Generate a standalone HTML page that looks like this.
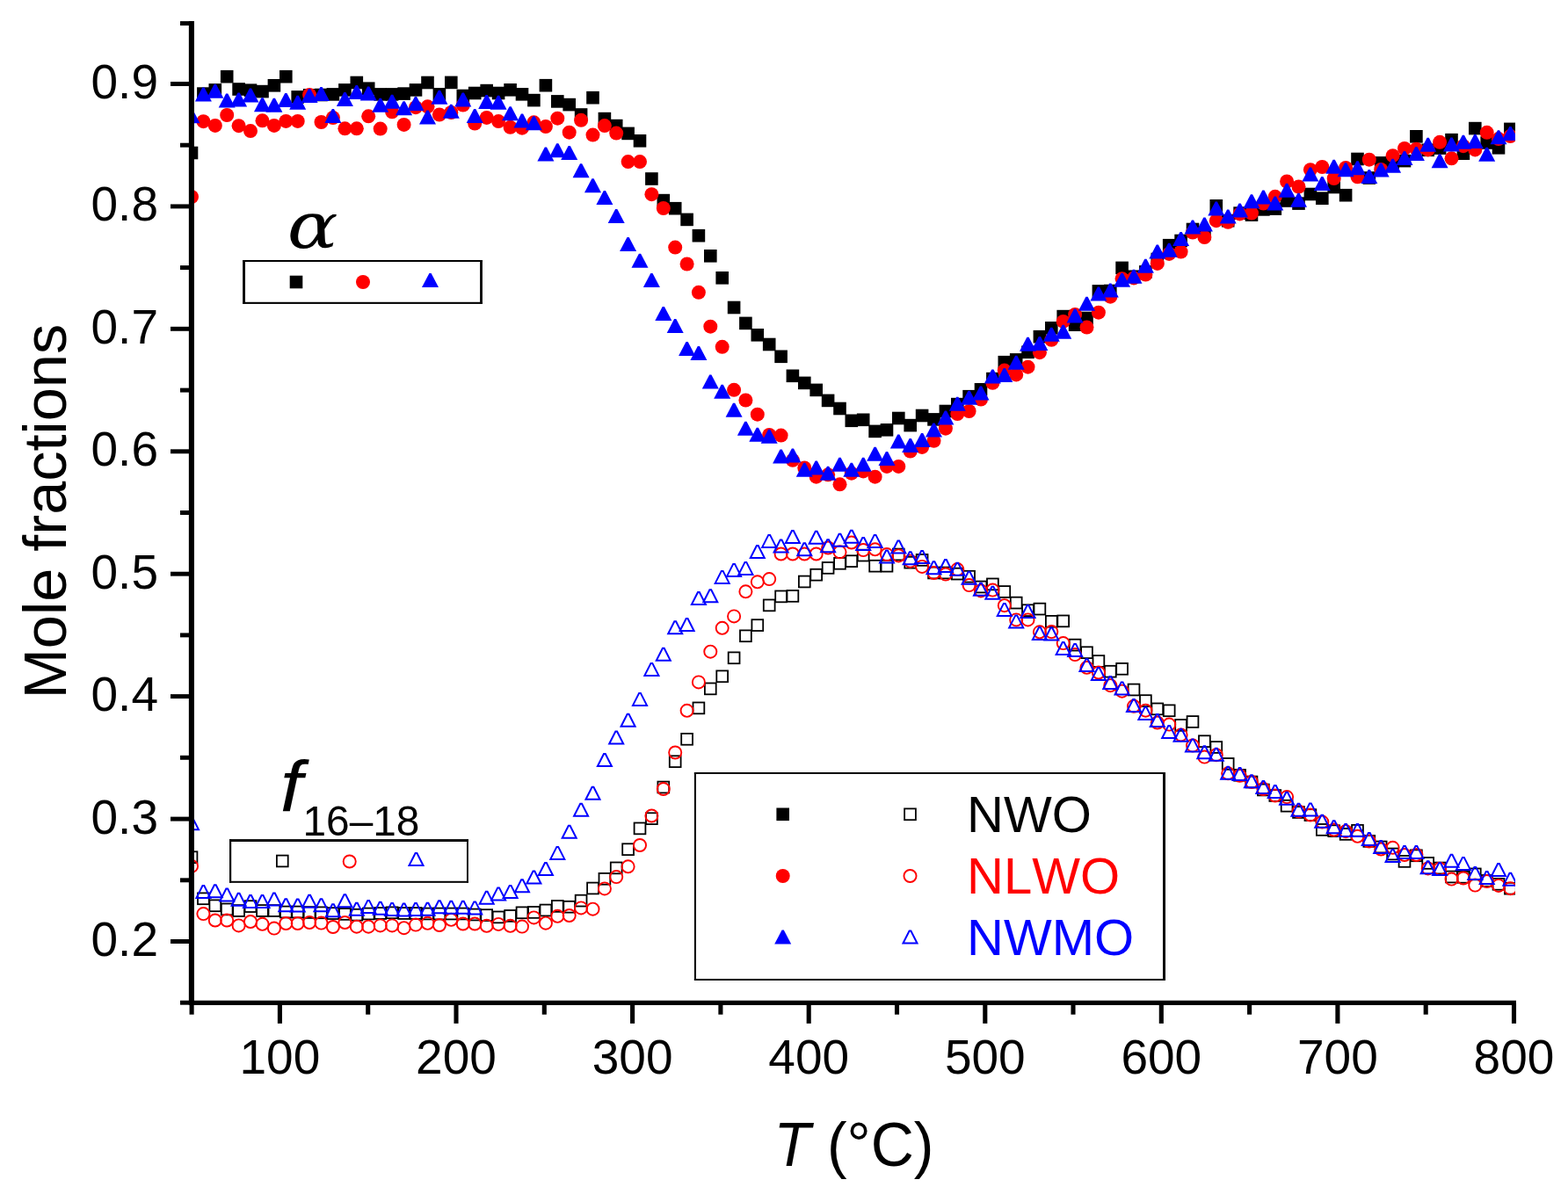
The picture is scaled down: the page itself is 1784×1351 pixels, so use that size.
<!DOCTYPE html>
<html><head><meta charset="utf-8"><title>Mole fractions vs T</title>
<style>html,body{margin:0;padding:0;background:#fff;}svg{display:block;} text{font-kerning:none;font-feature-settings:'kern' 0;}</style>
</head><body>
<svg width="1784" height="1351" viewBox="0 0 1784 1351">
<rect width="100%" height="100%" fill="#fff"/>
<defs><clipPath id="pc"><rect x="218" y="20" width="1506" height="1124"/></clipPath></defs>
<g clip-path="url(#pc)">
<rect x="211.6" y="969.3" width="12.8" height="12.8" fill="none" stroke="#000" stroke-width="1.8"/>
<rect x="225.0" y="1016.4" width="12.8" height="12.8" fill="none" stroke="#000" stroke-width="1.8"/>
<rect x="238.4" y="1024.4" width="12.8" height="12.8" fill="none" stroke="#000" stroke-width="1.8"/>
<rect x="251.8" y="1028.5" width="12.8" height="12.8" fill="none" stroke="#000" stroke-width="1.8"/>
<rect x="265.2" y="1030.1" width="12.8" height="12.8" fill="none" stroke="#000" stroke-width="1.8"/>
<rect x="278.6" y="1025.2" width="12.8" height="12.8" fill="none" stroke="#000" stroke-width="1.8"/>
<rect x="292.1" y="1030.1" width="12.8" height="12.8" fill="none" stroke="#000" stroke-width="1.8"/>
<rect x="305.5" y="1030.1" width="12.8" height="12.8" fill="none" stroke="#000" stroke-width="1.8"/>
<rect x="318.9" y="1031.6" width="12.8" height="12.8" fill="none" stroke="#000" stroke-width="1.8"/>
<rect x="332.3" y="1031.6" width="12.8" height="12.8" fill="none" stroke="#000" stroke-width="1.8"/>
<rect x="345.7" y="1032.1" width="12.8" height="12.8" fill="none" stroke="#000" stroke-width="1.8"/>
<rect x="359.1" y="1032.4" width="12.8" height="12.8" fill="none" stroke="#000" stroke-width="1.8"/>
<rect x="372.5" y="1033.2" width="12.8" height="12.8" fill="none" stroke="#000" stroke-width="1.8"/>
<rect x="386.0" y="1034.0" width="12.8" height="12.8" fill="none" stroke="#000" stroke-width="1.8"/>
<rect x="399.4" y="1034.8" width="12.8" height="12.8" fill="none" stroke="#000" stroke-width="1.8"/>
<rect x="412.8" y="1033.6" width="12.8" height="12.8" fill="none" stroke="#000" stroke-width="1.8"/>
<rect x="426.3" y="1033.1" width="12.8" height="12.8" fill="none" stroke="#000" stroke-width="1.8"/>
<rect x="439.7" y="1032.4" width="12.8" height="12.8" fill="none" stroke="#000" stroke-width="1.8"/>
<rect x="453.2" y="1033.1" width="12.8" height="12.8" fill="none" stroke="#000" stroke-width="1.8"/>
<rect x="466.6" y="1033.1" width="12.8" height="12.8" fill="none" stroke="#000" stroke-width="1.8"/>
<rect x="480.1" y="1033.6" width="12.8" height="12.8" fill="none" stroke="#000" stroke-width="1.8"/>
<rect x="493.5" y="1033.6" width="12.8" height="12.8" fill="none" stroke="#000" stroke-width="1.8"/>
<rect x="506.9" y="1033.6" width="12.8" height="12.8" fill="none" stroke="#000" stroke-width="1.8"/>
<rect x="520.4" y="1033.6" width="12.8" height="12.8" fill="none" stroke="#000" stroke-width="1.8"/>
<rect x="533.8" y="1034.6" width="12.8" height="12.8" fill="none" stroke="#000" stroke-width="1.8"/>
<rect x="547.3" y="1035.2" width="12.8" height="12.8" fill="none" stroke="#000" stroke-width="1.8"/>
<rect x="560.7" y="1037.5" width="12.8" height="12.8" fill="none" stroke="#000" stroke-width="1.8"/>
<rect x="574.2" y="1036.0" width="12.8" height="12.8" fill="none" stroke="#000" stroke-width="1.8"/>
<rect x="587.6" y="1032.4" width="12.8" height="12.8" fill="none" stroke="#000" stroke-width="1.8"/>
<rect x="601.0" y="1032.0" width="12.8" height="12.8" fill="none" stroke="#000" stroke-width="1.8"/>
<rect x="614.5" y="1029.6" width="12.8" height="12.8" fill="none" stroke="#000" stroke-width="1.8"/>
<rect x="627.9" y="1025.0" width="12.8" height="12.8" fill="none" stroke="#000" stroke-width="1.8"/>
<rect x="641.3" y="1025.8" width="12.8" height="12.8" fill="none" stroke="#000" stroke-width="1.8"/>
<rect x="654.7" y="1018.7" width="12.8" height="12.8" fill="none" stroke="#000" stroke-width="1.8"/>
<rect x="668.1" y="1004.6" width="12.8" height="12.8" fill="none" stroke="#000" stroke-width="1.8"/>
<rect x="681.5" y="993.9" width="12.8" height="12.8" fill="none" stroke="#000" stroke-width="1.8"/>
<rect x="694.8" y="981.5" width="12.8" height="12.8" fill="none" stroke="#000" stroke-width="1.8"/>
<rect x="708.2" y="960.3" width="12.8" height="12.8" fill="none" stroke="#000" stroke-width="1.8"/>
<rect x="721.6" y="936.5" width="12.8" height="12.8" fill="none" stroke="#000" stroke-width="1.8"/>
<rect x="735.0" y="925.3" width="12.8" height="12.8" fill="none" stroke="#000" stroke-width="1.8"/>
<rect x="748.4" y="889.6" width="12.8" height="12.8" fill="none" stroke="#000" stroke-width="1.8"/>
<rect x="761.8" y="860.3" width="12.8" height="12.8" fill="none" stroke="#000" stroke-width="1.8"/>
<rect x="775.2" y="834.9" width="12.8" height="12.8" fill="none" stroke="#000" stroke-width="1.8"/>
<rect x="788.5" y="799.5" width="12.8" height="12.8" fill="none" stroke="#000" stroke-width="1.8"/>
<rect x="801.9" y="777.5" width="12.8" height="12.8" fill="none" stroke="#000" stroke-width="1.8"/>
<rect x="815.3" y="763.4" width="12.8" height="12.8" fill="none" stroke="#000" stroke-width="1.8"/>
<rect x="828.7" y="742.4" width="12.8" height="12.8" fill="none" stroke="#000" stroke-width="1.8"/>
<rect x="842.0" y="717.4" width="12.8" height="12.8" fill="none" stroke="#000" stroke-width="1.8"/>
<rect x="855.4" y="705.2" width="12.8" height="12.8" fill="none" stroke="#000" stroke-width="1.8"/>
<rect x="868.8" y="682.5" width="12.8" height="12.8" fill="none" stroke="#000" stroke-width="1.8"/>
<rect x="882.2" y="672.5" width="12.8" height="12.8" fill="none" stroke="#000" stroke-width="1.8"/>
<rect x="895.5" y="672.0" width="12.8" height="12.8" fill="none" stroke="#000" stroke-width="1.8"/>
<rect x="908.9" y="655.6" width="12.8" height="12.8" fill="none" stroke="#000" stroke-width="1.8"/>
<rect x="922.3" y="647.8" width="12.8" height="12.8" fill="none" stroke="#000" stroke-width="1.8"/>
<rect x="935.7" y="640.0" width="12.8" height="12.8" fill="none" stroke="#000" stroke-width="1.8"/>
<rect x="949.1" y="634.9" width="12.8" height="12.8" fill="none" stroke="#000" stroke-width="1.8"/>
<rect x="962.4" y="632.3" width="12.8" height="12.8" fill="none" stroke="#000" stroke-width="1.8"/>
<rect x="975.8" y="625.7" width="12.8" height="12.8" fill="none" stroke="#000" stroke-width="1.8"/>
<rect x="989.2" y="637.8" width="12.8" height="12.8" fill="none" stroke="#000" stroke-width="1.8"/>
<rect x="1002.6" y="637.8" width="12.8" height="12.8" fill="none" stroke="#000" stroke-width="1.8"/>
<rect x="1015.9" y="624.6" width="12.8" height="12.8" fill="none" stroke="#000" stroke-width="1.8"/>
<rect x="1029.3" y="633.8" width="12.8" height="12.8" fill="none" stroke="#000" stroke-width="1.8"/>
<rect x="1042.7" y="631.0" width="12.8" height="12.8" fill="none" stroke="#000" stroke-width="1.8"/>
<rect x="1056.1" y="645.6" width="12.8" height="12.8" fill="none" stroke="#000" stroke-width="1.8"/>
<rect x="1069.5" y="645.6" width="12.8" height="12.8" fill="none" stroke="#000" stroke-width="1.8"/>
<rect x="1082.9" y="646.7" width="12.8" height="12.8" fill="none" stroke="#000" stroke-width="1.8"/>
<rect x="1096.2" y="649.8" width="12.8" height="12.8" fill="none" stroke="#000" stroke-width="1.8"/>
<rect x="1109.6" y="661.6" width="12.8" height="12.8" fill="none" stroke="#000" stroke-width="1.8"/>
<rect x="1123.0" y="658.5" width="12.8" height="12.8" fill="none" stroke="#000" stroke-width="1.8"/>
<rect x="1136.4" y="667.1" width="12.8" height="12.8" fill="none" stroke="#000" stroke-width="1.8"/>
<rect x="1149.8" y="679.7" width="12.8" height="12.8" fill="none" stroke="#000" stroke-width="1.8"/>
<rect x="1163.1" y="688.3" width="12.8" height="12.8" fill="none" stroke="#000" stroke-width="1.8"/>
<rect x="1176.5" y="686.7" width="12.8" height="12.8" fill="none" stroke="#000" stroke-width="1.8"/>
<rect x="1189.9" y="700.9" width="12.8" height="12.8" fill="none" stroke="#000" stroke-width="1.8"/>
<rect x="1203.3" y="700.5" width="12.8" height="12.8" fill="none" stroke="#000" stroke-width="1.8"/>
<rect x="1216.7" y="727.7" width="12.8" height="12.8" fill="none" stroke="#000" stroke-width="1.8"/>
<rect x="1230.1" y="736.3" width="12.8" height="12.8" fill="none" stroke="#000" stroke-width="1.8"/>
<rect x="1243.5" y="746.1" width="12.8" height="12.8" fill="none" stroke="#000" stroke-width="1.8"/>
<rect x="1256.9" y="757.8" width="12.8" height="12.8" fill="none" stroke="#000" stroke-width="1.8"/>
<rect x="1270.2" y="754.9" width="12.8" height="12.8" fill="none" stroke="#000" stroke-width="1.8"/>
<rect x="1283.6" y="778.6" width="12.8" height="12.8" fill="none" stroke="#000" stroke-width="1.8"/>
<rect x="1297.0" y="791.2" width="12.8" height="12.8" fill="none" stroke="#000" stroke-width="1.8"/>
<rect x="1310.4" y="800.5" width="12.8" height="12.8" fill="none" stroke="#000" stroke-width="1.8"/>
<rect x="1323.8" y="802.4" width="12.8" height="12.8" fill="none" stroke="#000" stroke-width="1.8"/>
<rect x="1337.2" y="819.0" width="12.8" height="12.8" fill="none" stroke="#000" stroke-width="1.8"/>
<rect x="1350.6" y="815.1" width="12.8" height="12.8" fill="none" stroke="#000" stroke-width="1.8"/>
<rect x="1364.0" y="837.3" width="12.8" height="12.8" fill="none" stroke="#000" stroke-width="1.8"/>
<rect x="1377.4" y="844.1" width="12.8" height="12.8" fill="none" stroke="#000" stroke-width="1.8"/>
<rect x="1390.8" y="863.0" width="12.8" height="12.8" fill="none" stroke="#000" stroke-width="1.8"/>
<rect x="1404.2" y="875.9" width="12.8" height="12.8" fill="none" stroke="#000" stroke-width="1.8"/>
<rect x="1417.6" y="883.6" width="12.8" height="12.8" fill="none" stroke="#000" stroke-width="1.8"/>
<rect x="1431.0" y="892.6" width="12.8" height="12.8" fill="none" stroke="#000" stroke-width="1.8"/>
<rect x="1444.4" y="899.1" width="12.8" height="12.8" fill="none" stroke="#000" stroke-width="1.8"/>
<rect x="1457.7" y="910.8" width="12.8" height="12.8" fill="none" stroke="#000" stroke-width="1.8"/>
<rect x="1471.1" y="918.1" width="12.8" height="12.8" fill="none" stroke="#000" stroke-width="1.8"/>
<rect x="1484.5" y="921.2" width="12.8" height="12.8" fill="none" stroke="#000" stroke-width="1.8"/>
<rect x="1497.9" y="938.0" width="12.8" height="12.8" fill="none" stroke="#000" stroke-width="1.8"/>
<rect x="1511.3" y="939.3" width="12.8" height="12.8" fill="none" stroke="#000" stroke-width="1.8"/>
<rect x="1524.7" y="943.0" width="12.8" height="12.8" fill="none" stroke="#000" stroke-width="1.8"/>
<rect x="1538.1" y="938.9" width="12.8" height="12.8" fill="none" stroke="#000" stroke-width="1.8"/>
<rect x="1551.4" y="951.0" width="12.8" height="12.8" fill="none" stroke="#000" stroke-width="1.8"/>
<rect x="1564.8" y="957.6" width="12.8" height="12.8" fill="none" stroke="#000" stroke-width="1.8"/>
<rect x="1578.2" y="965.6" width="12.8" height="12.8" fill="none" stroke="#000" stroke-width="1.8"/>
<rect x="1591.6" y="974.0" width="12.8" height="12.8" fill="none" stroke="#000" stroke-width="1.8"/>
<rect x="1605.0" y="967.4" width="12.8" height="12.8" fill="none" stroke="#000" stroke-width="1.8"/>
<rect x="1618.3" y="976.0" width="12.8" height="12.8" fill="none" stroke="#000" stroke-width="1.8"/>
<rect x="1631.7" y="981.6" width="12.8" height="12.8" fill="none" stroke="#000" stroke-width="1.8"/>
<rect x="1645.1" y="991.6" width="12.8" height="12.8" fill="none" stroke="#000" stroke-width="1.8"/>
<rect x="1658.5" y="991.9" width="12.8" height="12.8" fill="none" stroke="#000" stroke-width="1.8"/>
<rect x="1671.9" y="988.5" width="12.8" height="12.8" fill="none" stroke="#000" stroke-width="1.8"/>
<rect x="1685.3" y="996.0" width="12.8" height="12.8" fill="none" stroke="#000" stroke-width="1.8"/>
<rect x="1698.6" y="999.9" width="12.8" height="12.8" fill="none" stroke="#000" stroke-width="1.8"/>
<rect x="1712.0" y="1004.8" width="12.8" height="12.8" fill="none" stroke="#000" stroke-width="1.8"/>
<circle cx="218.0" cy="985.9" r="7.05" fill="none" stroke="#f00" stroke-width="1.9"/>
<circle cx="231.4" cy="1040.1" r="7.05" fill="none" stroke="#f00" stroke-width="1.9"/>
<circle cx="244.8" cy="1047.5" r="7.05" fill="none" stroke="#f00" stroke-width="1.9"/>
<circle cx="258.2" cy="1047.5" r="7.05" fill="none" stroke="#f00" stroke-width="1.9"/>
<circle cx="271.6" cy="1053.4" r="7.05" fill="none" stroke="#f00" stroke-width="1.9"/>
<circle cx="285.0" cy="1049.0" r="7.05" fill="none" stroke="#f00" stroke-width="1.9"/>
<circle cx="298.5" cy="1051.8" r="7.05" fill="none" stroke="#f00" stroke-width="1.9"/>
<circle cx="311.9" cy="1056.6" r="7.05" fill="none" stroke="#f00" stroke-width="1.9"/>
<circle cx="325.3" cy="1051.0" r="7.05" fill="none" stroke="#f00" stroke-width="1.9"/>
<circle cx="338.7" cy="1051.0" r="7.05" fill="none" stroke="#f00" stroke-width="1.9"/>
<circle cx="352.1" cy="1050.0" r="7.05" fill="none" stroke="#f00" stroke-width="1.9"/>
<circle cx="365.5" cy="1050.6" r="7.05" fill="none" stroke="#f00" stroke-width="1.9"/>
<circle cx="378.9" cy="1055.0" r="7.05" fill="none" stroke="#f00" stroke-width="1.9"/>
<circle cx="392.4" cy="1050.0" r="7.05" fill="none" stroke="#f00" stroke-width="1.9"/>
<circle cx="405.8" cy="1054.7" r="7.05" fill="none" stroke="#f00" stroke-width="1.9"/>
<circle cx="419.2" cy="1054.7" r="7.05" fill="none" stroke="#f00" stroke-width="1.9"/>
<circle cx="432.7" cy="1053.4" r="7.05" fill="none" stroke="#f00" stroke-width="1.9"/>
<circle cx="446.1" cy="1053.4" r="7.05" fill="none" stroke="#f00" stroke-width="1.9"/>
<circle cx="459.6" cy="1056.2" r="7.05" fill="none" stroke="#f00" stroke-width="1.9"/>
<circle cx="473.0" cy="1052.6" r="7.05" fill="none" stroke="#f00" stroke-width="1.9"/>
<circle cx="486.5" cy="1050.8" r="7.05" fill="none" stroke="#f00" stroke-width="1.9"/>
<circle cx="499.9" cy="1053.0" r="7.05" fill="none" stroke="#f00" stroke-width="1.9"/>
<circle cx="513.3" cy="1046.8" r="7.05" fill="none" stroke="#f00" stroke-width="1.9"/>
<circle cx="526.8" cy="1051.5" r="7.05" fill="none" stroke="#f00" stroke-width="1.9"/>
<circle cx="540.2" cy="1051.5" r="7.05" fill="none" stroke="#f00" stroke-width="1.9"/>
<circle cx="553.7" cy="1053.8" r="7.05" fill="none" stroke="#f00" stroke-width="1.9"/>
<circle cx="567.1" cy="1051.9" r="7.05" fill="none" stroke="#f00" stroke-width="1.9"/>
<circle cx="580.6" cy="1053.8" r="7.05" fill="none" stroke="#f00" stroke-width="1.9"/>
<circle cx="594.0" cy="1054.6" r="7.05" fill="none" stroke="#f00" stroke-width="1.9"/>
<circle cx="607.4" cy="1044.4" r="7.05" fill="none" stroke="#f00" stroke-width="1.9"/>
<circle cx="620.9" cy="1050.7" r="7.05" fill="none" stroke="#f00" stroke-width="1.9"/>
<circle cx="634.3" cy="1042.8" r="7.05" fill="none" stroke="#f00" stroke-width="1.9"/>
<circle cx="647.7" cy="1042.0" r="7.05" fill="none" stroke="#f00" stroke-width="1.9"/>
<circle cx="661.1" cy="1033.4" r="7.05" fill="none" stroke="#f00" stroke-width="1.9"/>
<circle cx="674.5" cy="1034.7" r="7.05" fill="none" stroke="#f00" stroke-width="1.9"/>
<circle cx="687.9" cy="1011.4" r="7.05" fill="none" stroke="#f00" stroke-width="1.9"/>
<circle cx="701.2" cy="998.1" r="7.05" fill="none" stroke="#f00" stroke-width="1.9"/>
<circle cx="714.6" cy="986.3" r="7.05" fill="none" stroke="#f00" stroke-width="1.9"/>
<circle cx="728.0" cy="962.0" r="7.05" fill="none" stroke="#f00" stroke-width="1.9"/>
<circle cx="741.4" cy="928.5" r="7.05" fill="none" stroke="#f00" stroke-width="1.9"/>
<circle cx="754.8" cy="898.0" r="7.05" fill="none" stroke="#f00" stroke-width="1.9"/>
<circle cx="768.2" cy="856.5" r="7.05" fill="none" stroke="#f00" stroke-width="1.9"/>
<circle cx="781.6" cy="808.8" r="7.05" fill="none" stroke="#f00" stroke-width="1.9"/>
<circle cx="794.9" cy="776.4" r="7.05" fill="none" stroke="#f00" stroke-width="1.9"/>
<circle cx="808.3" cy="741.7" r="7.05" fill="none" stroke="#f00" stroke-width="1.9"/>
<circle cx="821.7" cy="714.8" r="7.05" fill="none" stroke="#f00" stroke-width="1.9"/>
<circle cx="835.1" cy="701.4" r="7.05" fill="none" stroke="#f00" stroke-width="1.9"/>
<circle cx="848.4" cy="673.3" r="7.05" fill="none" stroke="#f00" stroke-width="1.9"/>
<circle cx="861.8" cy="662.3" r="7.05" fill="none" stroke="#f00" stroke-width="1.9"/>
<circle cx="875.2" cy="659.1" r="7.05" fill="none" stroke="#f00" stroke-width="1.9"/>
<circle cx="888.6" cy="630.5" r="7.05" fill="none" stroke="#f00" stroke-width="1.9"/>
<circle cx="901.9" cy="630.5" r="7.05" fill="none" stroke="#f00" stroke-width="1.9"/>
<circle cx="915.3" cy="630.5" r="7.05" fill="none" stroke="#f00" stroke-width="1.9"/>
<circle cx="928.7" cy="630.5" r="7.05" fill="none" stroke="#f00" stroke-width="1.9"/>
<circle cx="942.1" cy="623.5" r="7.05" fill="none" stroke="#f00" stroke-width="1.9"/>
<circle cx="955.5" cy="628.3" r="7.05" fill="none" stroke="#f00" stroke-width="1.9"/>
<circle cx="968.8" cy="617.5" r="7.05" fill="none" stroke="#f00" stroke-width="1.9"/>
<circle cx="982.2" cy="626.1" r="7.05" fill="none" stroke="#f00" stroke-width="1.9"/>
<circle cx="995.6" cy="625.3" r="7.05" fill="none" stroke="#f00" stroke-width="1.9"/>
<circle cx="1009.0" cy="631.1" r="7.05" fill="none" stroke="#f00" stroke-width="1.9"/>
<circle cx="1022.3" cy="632.4" r="7.05" fill="none" stroke="#f00" stroke-width="1.9"/>
<circle cx="1035.7" cy="638.7" r="7.05" fill="none" stroke="#f00" stroke-width="1.9"/>
<circle cx="1049.1" cy="644.9" r="7.05" fill="none" stroke="#f00" stroke-width="1.9"/>
<circle cx="1062.5" cy="652.0" r="7.05" fill="none" stroke="#f00" stroke-width="1.9"/>
<circle cx="1075.9" cy="653.6" r="7.05" fill="none" stroke="#f00" stroke-width="1.9"/>
<circle cx="1089.3" cy="648.1" r="7.05" fill="none" stroke="#f00" stroke-width="1.9"/>
<circle cx="1102.6" cy="666.1" r="7.05" fill="none" stroke="#f00" stroke-width="1.9"/>
<circle cx="1116.0" cy="672.4" r="7.05" fill="none" stroke="#f00" stroke-width="1.9"/>
<circle cx="1129.4" cy="671.6" r="7.05" fill="none" stroke="#f00" stroke-width="1.9"/>
<circle cx="1142.8" cy="689.2" r="7.05" fill="none" stroke="#f00" stroke-width="1.9"/>
<circle cx="1156.2" cy="705.4" r="7.05" fill="none" stroke="#f00" stroke-width="1.9"/>
<circle cx="1169.5" cy="705.4" r="7.05" fill="none" stroke="#f00" stroke-width="1.9"/>
<circle cx="1182.9" cy="719.3" r="7.05" fill="none" stroke="#f00" stroke-width="1.9"/>
<circle cx="1196.3" cy="719.1" r="7.05" fill="none" stroke="#f00" stroke-width="1.9"/>
<circle cx="1209.7" cy="732.1" r="7.05" fill="none" stroke="#f00" stroke-width="1.9"/>
<circle cx="1223.1" cy="745.1" r="7.05" fill="none" stroke="#f00" stroke-width="1.9"/>
<circle cx="1236.5" cy="759.8" r="7.05" fill="none" stroke="#f00" stroke-width="1.9"/>
<circle cx="1249.9" cy="765.5" r="7.05" fill="none" stroke="#f00" stroke-width="1.9"/>
<circle cx="1263.3" cy="780.2" r="7.05" fill="none" stroke="#f00" stroke-width="1.9"/>
<circle cx="1276.6" cy="786.7" r="7.05" fill="none" stroke="#f00" stroke-width="1.9"/>
<circle cx="1290.0" cy="803.8" r="7.05" fill="none" stroke="#f00" stroke-width="1.9"/>
<circle cx="1303.4" cy="808.7" r="7.05" fill="none" stroke="#f00" stroke-width="1.9"/>
<circle cx="1316.8" cy="822.5" r="7.05" fill="none" stroke="#f00" stroke-width="1.9"/>
<circle cx="1330.2" cy="824.6" r="7.05" fill="none" stroke="#f00" stroke-width="1.9"/>
<circle cx="1343.6" cy="836.4" r="7.05" fill="none" stroke="#f00" stroke-width="1.9"/>
<circle cx="1357.0" cy="848.6" r="7.05" fill="none" stroke="#f00" stroke-width="1.9"/>
<circle cx="1370.4" cy="861.6" r="7.05" fill="none" stroke="#f00" stroke-width="1.9"/>
<circle cx="1383.8" cy="859.2" r="7.05" fill="none" stroke="#f00" stroke-width="1.9"/>
<circle cx="1397.2" cy="880.3" r="7.05" fill="none" stroke="#f00" stroke-width="1.9"/>
<circle cx="1410.6" cy="882.8" r="7.05" fill="none" stroke="#f00" stroke-width="1.9"/>
<circle cx="1424.0" cy="890.1" r="7.05" fill="none" stroke="#f00" stroke-width="1.9"/>
<circle cx="1437.4" cy="898.0" r="7.05" fill="none" stroke="#f00" stroke-width="1.9"/>
<circle cx="1450.8" cy="905.5" r="7.05" fill="none" stroke="#f00" stroke-width="1.9"/>
<circle cx="1464.1" cy="907.1" r="7.05" fill="none" stroke="#f00" stroke-width="1.9"/>
<circle cx="1477.5" cy="923.4" r="7.05" fill="none" stroke="#f00" stroke-width="1.9"/>
<circle cx="1490.9" cy="927.5" r="7.05" fill="none" stroke="#f00" stroke-width="1.9"/>
<circle cx="1504.3" cy="935.6" r="7.05" fill="none" stroke="#f00" stroke-width="1.9"/>
<circle cx="1517.7" cy="944.5" r="7.05" fill="none" stroke="#f00" stroke-width="1.9"/>
<circle cx="1531.1" cy="946.2" r="7.05" fill="none" stroke="#f00" stroke-width="1.9"/>
<circle cx="1544.5" cy="951.8" r="7.05" fill="none" stroke="#f00" stroke-width="1.9"/>
<circle cx="1557.8" cy="957.5" r="7.05" fill="none" stroke="#f00" stroke-width="1.9"/>
<circle cx="1571.2" cy="966.5" r="7.05" fill="none" stroke="#f00" stroke-width="1.9"/>
<circle cx="1584.6" cy="964.8" r="7.05" fill="none" stroke="#f00" stroke-width="1.9"/>
<circle cx="1598.0" cy="973.0" r="7.05" fill="none" stroke="#f00" stroke-width="1.9"/>
<circle cx="1611.4" cy="973.0" r="7.05" fill="none" stroke="#f00" stroke-width="1.9"/>
<circle cx="1624.7" cy="988.4" r="7.05" fill="none" stroke="#f00" stroke-width="1.9"/>
<circle cx="1638.1" cy="988.7" r="7.05" fill="none" stroke="#f00" stroke-width="1.9"/>
<circle cx="1651.5" cy="1000.6" r="7.05" fill="none" stroke="#f00" stroke-width="1.9"/>
<circle cx="1664.9" cy="999.5" r="7.05" fill="none" stroke="#f00" stroke-width="1.9"/>
<circle cx="1678.3" cy="1007.6" r="7.05" fill="none" stroke="#f00" stroke-width="1.9"/>
<circle cx="1691.7" cy="1003.0" r="7.05" fill="none" stroke="#f00" stroke-width="1.9"/>
<circle cx="1705.0" cy="1007.9" r="7.05" fill="none" stroke="#f00" stroke-width="1.9"/>
<circle cx="1718.4" cy="1011.2" r="7.05" fill="none" stroke="#f00" stroke-width="1.9"/>
<polygon points="217.1,930.3 218.9,930.3 226.0,944.3 210.0,944.3" fill="none" stroke="#00f" stroke-width="2.0" stroke-linejoin="miter"/>
<polygon points="230.5,1008.1 232.3,1008.1 239.4,1022.1 223.4,1022.1" fill="none" stroke="#00f" stroke-width="2.0" stroke-linejoin="miter"/>
<polygon points="243.9,1007.2 245.7,1007.2 252.8,1021.2 236.8,1021.2" fill="none" stroke="#00f" stroke-width="2.0" stroke-linejoin="miter"/>
<polygon points="257.3,1011.6 259.1,1011.6 266.2,1025.6 250.2,1025.6" fill="none" stroke="#00f" stroke-width="2.0" stroke-linejoin="miter"/>
<polygon points="270.7,1016.7 272.5,1016.7 279.6,1030.7 263.6,1030.7" fill="none" stroke="#00f" stroke-width="2.0" stroke-linejoin="miter"/>
<polygon points="284.1,1019.0 285.9,1019.0 293.0,1033.0 277.0,1033.0" fill="none" stroke="#00f" stroke-width="2.0" stroke-linejoin="miter"/>
<polygon points="297.6,1019.0 299.4,1019.0 306.5,1033.0 290.5,1033.0" fill="none" stroke="#00f" stroke-width="2.0" stroke-linejoin="miter"/>
<polygon points="311.0,1016.6 312.8,1016.6 319.9,1030.6 303.9,1030.6" fill="none" stroke="#00f" stroke-width="2.0" stroke-linejoin="miter"/>
<polygon points="324.4,1023.2 326.2,1023.2 333.3,1037.2 317.3,1037.2" fill="none" stroke="#00f" stroke-width="2.0" stroke-linejoin="miter"/>
<polygon points="337.8,1023.5 339.6,1023.5 346.7,1037.5 330.7,1037.5" fill="none" stroke="#00f" stroke-width="2.0" stroke-linejoin="miter"/>
<polygon points="351.2,1018.8 353.0,1018.8 360.1,1032.8 344.1,1032.8" fill="none" stroke="#00f" stroke-width="2.0" stroke-linejoin="miter"/>
<polygon points="364.6,1023.2 366.4,1023.2 373.5,1037.2 357.5,1037.2" fill="none" stroke="#00f" stroke-width="2.0" stroke-linejoin="miter"/>
<polygon points="378.0,1029.2 379.8,1029.2 386.9,1043.2 370.9,1043.2" fill="none" stroke="#00f" stroke-width="2.0" stroke-linejoin="miter"/>
<polygon points="391.5,1018.3 393.3,1018.3 400.4,1032.3 384.4,1032.3" fill="none" stroke="#00f" stroke-width="2.0" stroke-linejoin="miter"/>
<polygon points="404.9,1027.7 406.7,1027.7 413.8,1041.7 397.8,1041.7" fill="none" stroke="#00f" stroke-width="2.0" stroke-linejoin="miter"/>
<polygon points="418.3,1024.9 420.1,1024.9 427.2,1038.9 411.2,1038.9" fill="none" stroke="#00f" stroke-width="2.0" stroke-linejoin="miter"/>
<polygon points="431.8,1026.8 433.6,1026.8 440.7,1040.8 424.7,1040.8" fill="none" stroke="#00f" stroke-width="2.0" stroke-linejoin="miter"/>
<polygon points="445.2,1027.9 447.0,1027.9 454.1,1041.9 438.1,1041.9" fill="none" stroke="#00f" stroke-width="2.0" stroke-linejoin="miter"/>
<polygon points="458.7,1028.5 460.5,1028.5 467.6,1042.5 451.6,1042.5" fill="none" stroke="#00f" stroke-width="2.0" stroke-linejoin="miter"/>
<polygon points="472.1,1027.9 473.9,1027.9 481.0,1041.9 465.0,1041.9" fill="none" stroke="#00f" stroke-width="2.0" stroke-linejoin="miter"/>
<polygon points="485.6,1027.7 487.4,1027.7 494.5,1041.7 478.5,1041.7" fill="none" stroke="#00f" stroke-width="2.0" stroke-linejoin="miter"/>
<polygon points="499.0,1025.2 500.8,1025.2 507.9,1039.2 491.9,1039.2" fill="none" stroke="#00f" stroke-width="2.0" stroke-linejoin="miter"/>
<polygon points="512.4,1025.8 514.2,1025.8 521.3,1039.8 505.3,1039.8" fill="none" stroke="#00f" stroke-width="2.0" stroke-linejoin="miter"/>
<polygon points="525.9,1025.8 527.7,1025.8 534.8,1039.8 518.8,1039.8" fill="none" stroke="#00f" stroke-width="2.0" stroke-linejoin="miter"/>
<polygon points="539.3,1026.4 541.1,1026.4 548.2,1040.4 532.2,1040.4" fill="none" stroke="#00f" stroke-width="2.0" stroke-linejoin="miter"/>
<polygon points="552.8,1014.8 554.6,1014.8 561.7,1028.8 545.7,1028.8" fill="none" stroke="#00f" stroke-width="2.0" stroke-linejoin="miter"/>
<polygon points="566.2,1010.4 568.0,1010.4 575.1,1024.4 559.1,1024.4" fill="none" stroke="#00f" stroke-width="2.0" stroke-linejoin="miter"/>
<polygon points="579.7,1007.9 581.5,1007.9 588.6,1021.9 572.6,1021.9" fill="none" stroke="#00f" stroke-width="2.0" stroke-linejoin="miter"/>
<polygon points="593.1,1001.3 594.9,1001.3 602.0,1015.3 586.0,1015.3" fill="none" stroke="#00f" stroke-width="2.0" stroke-linejoin="miter"/>
<polygon points="606.5,991.6 608.3,991.6 615.4,1005.6 599.4,1005.6" fill="none" stroke="#00f" stroke-width="2.0" stroke-linejoin="miter"/>
<polygon points="620.0,982.0 621.8,982.0 628.9,996.0 612.9,996.0" fill="none" stroke="#00f" stroke-width="2.0" stroke-linejoin="miter"/>
<polygon points="633.4,963.9 635.2,963.9 642.3,977.9 626.3,977.9" fill="none" stroke="#00f" stroke-width="2.0" stroke-linejoin="miter"/>
<polygon points="646.8,939.8 648.6,939.8 655.7,953.8 639.7,953.8" fill="none" stroke="#00f" stroke-width="2.0" stroke-linejoin="miter"/>
<polygon points="660.2,914.7 662.0,914.7 669.1,928.7 653.1,928.7" fill="none" stroke="#00f" stroke-width="2.0" stroke-linejoin="miter"/>
<polygon points="673.6,895.8 675.4,895.8 682.5,909.8 666.5,909.8" fill="none" stroke="#00f" stroke-width="2.0" stroke-linejoin="miter"/>
<polygon points="687.0,858.0 688.8,858.0 695.9,872.0 679.9,872.0" fill="none" stroke="#00f" stroke-width="2.0" stroke-linejoin="miter"/>
<polygon points="700.3,832.6 702.1,832.6 709.2,846.6 693.2,846.6" fill="none" stroke="#00f" stroke-width="2.0" stroke-linejoin="miter"/>
<polygon points="713.7,812.8 715.5,812.8 722.6,826.8 706.6,826.8" fill="none" stroke="#00f" stroke-width="2.0" stroke-linejoin="miter"/>
<polygon points="727.1,788.9 728.9,788.9 736.0,802.9 720.0,802.9" fill="none" stroke="#00f" stroke-width="2.0" stroke-linejoin="miter"/>
<polygon points="740.5,754.9 742.3,754.9 749.4,768.9 733.4,768.9" fill="none" stroke="#00f" stroke-width="2.0" stroke-linejoin="miter"/>
<polygon points="753.9,737.8 755.7,737.8 762.8,751.8 746.8,751.8" fill="none" stroke="#00f" stroke-width="2.0" stroke-linejoin="miter"/>
<polygon points="767.3,707.3 769.1,707.3 776.2,721.3 760.2,721.3" fill="none" stroke="#00f" stroke-width="2.0" stroke-linejoin="miter"/>
<polygon points="780.7,704.1 782.5,704.1 789.6,718.1 773.6,718.1" fill="none" stroke="#00f" stroke-width="2.0" stroke-linejoin="miter"/>
<polygon points="794.0,674.1 795.8,674.1 802.9,688.1 786.9,688.1" fill="none" stroke="#00f" stroke-width="2.0" stroke-linejoin="miter"/>
<polygon points="807.4,671.2 809.2,671.2 816.3,685.2 800.3,685.2" fill="none" stroke="#00f" stroke-width="2.0" stroke-linejoin="miter"/>
<polygon points="820.8,649.9 822.6,649.9 829.7,663.9 813.7,663.9" fill="none" stroke="#00f" stroke-width="2.0" stroke-linejoin="miter"/>
<polygon points="834.2,641.9 836.0,641.9 843.1,655.9 827.1,655.9" fill="none" stroke="#00f" stroke-width="2.0" stroke-linejoin="miter"/>
<polygon points="847.5,639.9 849.3,639.9 856.4,653.9 840.4,653.9" fill="none" stroke="#00f" stroke-width="2.0" stroke-linejoin="miter"/>
<polygon points="860.9,621.1 862.7,621.1 869.8,635.1 853.8,635.1" fill="none" stroke="#00f" stroke-width="2.0" stroke-linejoin="miter"/>
<polygon points="874.3,608.9 876.1,608.9 883.2,622.9 867.2,622.9" fill="none" stroke="#00f" stroke-width="2.0" stroke-linejoin="miter"/>
<polygon points="887.7,614.5 889.5,614.5 896.6,628.5 880.6,628.5" fill="none" stroke="#00f" stroke-width="2.0" stroke-linejoin="miter"/>
<polygon points="901.0,604.0 902.8,604.0 909.9,618.0 893.9,618.0" fill="none" stroke="#00f" stroke-width="2.0" stroke-linejoin="miter"/>
<polygon points="914.4,618.2 916.2,618.2 923.3,632.2 907.3,632.2" fill="none" stroke="#00f" stroke-width="2.0" stroke-linejoin="miter"/>
<polygon points="927.8,604.7 929.6,604.7 936.7,618.7 920.7,618.7" fill="none" stroke="#00f" stroke-width="2.0" stroke-linejoin="miter"/>
<polygon points="941.2,614.2 943.0,614.2 950.1,628.2 934.1,628.2" fill="none" stroke="#00f" stroke-width="2.0" stroke-linejoin="miter"/>
<polygon points="954.6,607.8 956.4,607.8 963.5,621.8 947.5,621.8" fill="none" stroke="#00f" stroke-width="2.0" stroke-linejoin="miter"/>
<polygon points="967.9,603.7 969.7,603.7 976.8,617.7 960.8,617.7" fill="none" stroke="#00f" stroke-width="2.0" stroke-linejoin="miter"/>
<polygon points="981.3,612.0 983.1,612.0 990.2,626.0 974.2,626.0" fill="none" stroke="#00f" stroke-width="2.0" stroke-linejoin="miter"/>
<polygon points="994.7,608.9 996.5,608.9 1003.6,622.9 987.6,622.9" fill="none" stroke="#00f" stroke-width="2.0" stroke-linejoin="miter"/>
<polygon points="1008.1,626.6 1009.9,626.6 1017.0,640.6 1001.0,640.6" fill="none" stroke="#00f" stroke-width="2.0" stroke-linejoin="miter"/>
<polygon points="1021.4,615.6 1023.2,615.6 1030.3,629.6 1014.3,629.6" fill="none" stroke="#00f" stroke-width="2.0" stroke-linejoin="miter"/>
<polygon points="1034.8,628.2 1036.6,628.2 1043.7,642.2 1027.7,642.2" fill="none" stroke="#00f" stroke-width="2.0" stroke-linejoin="miter"/>
<polygon points="1048.2,627.1 1050.0,627.1 1057.1,641.1 1041.1,641.1" fill="none" stroke="#00f" stroke-width="2.0" stroke-linejoin="miter"/>
<polygon points="1061.6,639.2 1063.4,639.2 1070.5,653.2 1054.5,653.2" fill="none" stroke="#00f" stroke-width="2.0" stroke-linejoin="miter"/>
<polygon points="1075.0,637.0 1076.8,637.0 1083.9,651.0 1067.9,651.0" fill="none" stroke="#00f" stroke-width="2.0" stroke-linejoin="miter"/>
<polygon points="1088.4,640.8 1090.2,640.8 1097.3,654.8 1081.3,654.8" fill="none" stroke="#00f" stroke-width="2.0" stroke-linejoin="miter"/>
<polygon points="1101.7,650.8 1103.5,650.8 1110.6,664.8 1094.6,664.8" fill="none" stroke="#00f" stroke-width="2.0" stroke-linejoin="miter"/>
<polygon points="1115.1,663.7 1116.9,663.7 1124.0,677.7 1108.0,677.7" fill="none" stroke="#00f" stroke-width="2.0" stroke-linejoin="miter"/>
<polygon points="1128.5,667.8 1130.3,667.8 1137.4,681.8 1121.4,681.8" fill="none" stroke="#00f" stroke-width="2.0" stroke-linejoin="miter"/>
<polygon points="1141.9,686.9 1143.7,686.9 1150.8,700.9 1134.8,700.9" fill="none" stroke="#00f" stroke-width="2.0" stroke-linejoin="miter"/>
<polygon points="1155.3,700.4 1157.1,700.4 1164.2,714.4 1148.2,714.4" fill="none" stroke="#00f" stroke-width="2.0" stroke-linejoin="miter"/>
<polygon points="1168.6,689.0 1170.4,689.0 1177.5,703.0 1161.5,703.0" fill="none" stroke="#00f" stroke-width="2.0" stroke-linejoin="miter"/>
<polygon points="1182.0,714.0 1183.8,714.0 1190.9,728.0 1174.9,728.0" fill="none" stroke="#00f" stroke-width="2.0" stroke-linejoin="miter"/>
<polygon points="1195.4,714.5 1197.2,714.5 1204.3,728.5 1188.3,728.5" fill="none" stroke="#00f" stroke-width="2.0" stroke-linejoin="miter"/>
<polygon points="1208.8,731.0 1210.6,731.0 1217.7,745.0 1201.7,745.0" fill="none" stroke="#00f" stroke-width="2.0" stroke-linejoin="miter"/>
<polygon points="1222.2,732.9 1224.0,732.9 1231.1,746.9 1215.1,746.9" fill="none" stroke="#00f" stroke-width="2.0" stroke-linejoin="miter"/>
<polygon points="1235.6,750.0 1237.4,750.0 1244.5,764.0 1228.5,764.0" fill="none" stroke="#00f" stroke-width="2.0" stroke-linejoin="miter"/>
<polygon points="1249.0,760.0 1250.8,760.0 1257.9,774.0 1241.9,774.0" fill="none" stroke="#00f" stroke-width="2.0" stroke-linejoin="miter"/>
<polygon points="1262.4,770.1 1264.2,770.1 1271.3,784.1 1255.3,784.1" fill="none" stroke="#00f" stroke-width="2.0" stroke-linejoin="miter"/>
<polygon points="1275.7,776.4 1277.5,776.4 1284.6,790.4 1268.6,790.4" fill="none" stroke="#00f" stroke-width="2.0" stroke-linejoin="miter"/>
<polygon points="1289.1,796.1 1290.9,796.1 1298.0,810.1 1282.0,810.1" fill="none" stroke="#00f" stroke-width="2.0" stroke-linejoin="miter"/>
<polygon points="1302.5,804.9 1304.3,804.9 1311.4,818.9 1295.4,818.9" fill="none" stroke="#00f" stroke-width="2.0" stroke-linejoin="miter"/>
<polygon points="1315.9,813.1 1317.7,813.1 1324.8,827.1 1308.8,827.1" fill="none" stroke="#00f" stroke-width="2.0" stroke-linejoin="miter"/>
<polygon points="1329.3,826.1 1331.1,826.1 1338.2,840.1 1322.2,840.1" fill="none" stroke="#00f" stroke-width="2.0" stroke-linejoin="miter"/>
<polygon points="1342.7,829.7 1344.5,829.7 1351.6,843.7 1335.6,843.7" fill="none" stroke="#00f" stroke-width="2.0" stroke-linejoin="miter"/>
<polygon points="1356.1,841.4 1357.9,841.4 1365.0,855.4 1349.0,855.4" fill="none" stroke="#00f" stroke-width="2.0" stroke-linejoin="miter"/>
<polygon points="1369.5,849.2 1371.3,849.2 1378.4,863.2 1362.4,863.2" fill="none" stroke="#00f" stroke-width="2.0" stroke-linejoin="miter"/>
<polygon points="1382.9,851.8 1384.7,851.8 1391.8,865.8 1375.8,865.8" fill="none" stroke="#00f" stroke-width="2.0" stroke-linejoin="miter"/>
<polygon points="1396.3,872.7 1398.1,872.7 1405.2,886.7 1389.2,886.7" fill="none" stroke="#00f" stroke-width="2.0" stroke-linejoin="miter"/>
<polygon points="1409.7,874.1 1411.5,874.1 1418.6,888.1 1402.6,888.1" fill="none" stroke="#00f" stroke-width="2.0" stroke-linejoin="miter"/>
<polygon points="1423.1,882.3 1424.9,882.3 1432.0,896.3 1416.0,896.3" fill="none" stroke="#00f" stroke-width="2.0" stroke-linejoin="miter"/>
<polygon points="1436.5,889.0 1438.3,889.0 1445.4,903.0 1429.4,903.0" fill="none" stroke="#00f" stroke-width="2.0" stroke-linejoin="miter"/>
<polygon points="1449.9,894.0 1451.7,894.0 1458.8,908.0 1442.8,908.0" fill="none" stroke="#00f" stroke-width="2.0" stroke-linejoin="miter"/>
<polygon points="1463.2,901.8 1465.0,901.8 1472.1,915.8 1456.1,915.8" fill="none" stroke="#00f" stroke-width="2.0" stroke-linejoin="miter"/>
<polygon points="1476.6,914.8 1478.4,914.8 1485.5,928.8 1469.5,928.8" fill="none" stroke="#00f" stroke-width="2.0" stroke-linejoin="miter"/>
<polygon points="1490.0,914.4 1491.8,914.4 1498.9,928.4 1482.9,928.4" fill="none" stroke="#00f" stroke-width="2.0" stroke-linejoin="miter"/>
<polygon points="1503.4,927.8 1505.2,927.8 1512.3,941.8 1496.3,941.8" fill="none" stroke="#00f" stroke-width="2.0" stroke-linejoin="miter"/>
<polygon points="1516.8,934.3 1518.6,934.3 1525.7,948.3 1509.7,948.3" fill="none" stroke="#00f" stroke-width="2.0" stroke-linejoin="miter"/>
<polygon points="1530.2,938.0 1532.0,938.0 1539.1,952.0 1523.1,952.0" fill="none" stroke="#00f" stroke-width="2.0" stroke-linejoin="miter"/>
<polygon points="1543.6,938.0 1545.4,938.0 1552.5,952.0 1536.5,952.0" fill="none" stroke="#00f" stroke-width="2.0" stroke-linejoin="miter"/>
<polygon points="1556.9,948.1 1558.7,948.1 1565.8,962.1 1549.8,962.1" fill="none" stroke="#00f" stroke-width="2.0" stroke-linejoin="miter"/>
<polygon points="1570.3,957.0 1572.1,957.0 1579.2,971.0 1563.2,971.0" fill="none" stroke="#00f" stroke-width="2.0" stroke-linejoin="miter"/>
<polygon points="1583.7,967.1 1585.5,967.1 1592.6,981.1 1576.6,981.1" fill="none" stroke="#00f" stroke-width="2.0" stroke-linejoin="miter"/>
<polygon points="1597.1,962.9 1598.9,962.9 1606.0,976.9 1590.0,976.9" fill="none" stroke="#00f" stroke-width="2.0" stroke-linejoin="miter"/>
<polygon points="1610.5,962.9 1612.3,962.9 1619.4,976.9 1603.4,976.9" fill="none" stroke="#00f" stroke-width="2.0" stroke-linejoin="miter"/>
<polygon points="1623.8,980.3 1625.6,980.3 1632.7,994.3 1616.7,994.3" fill="none" stroke="#00f" stroke-width="2.0" stroke-linejoin="miter"/>
<polygon points="1637.2,982.1 1639.0,982.1 1646.1,996.1 1630.1,996.1" fill="none" stroke="#00f" stroke-width="2.0" stroke-linejoin="miter"/>
<polygon points="1650.6,972.8 1652.4,972.8 1659.5,986.8 1643.5,986.8" fill="none" stroke="#00f" stroke-width="2.0" stroke-linejoin="miter"/>
<polygon points="1664.0,975.9 1665.8,975.9 1672.9,989.9 1656.9,989.9" fill="none" stroke="#00f" stroke-width="2.0" stroke-linejoin="miter"/>
<polygon points="1677.4,986.9 1679.2,986.9 1686.3,1000.9 1670.3,1000.9" fill="none" stroke="#00f" stroke-width="2.0" stroke-linejoin="miter"/>
<polygon points="1690.8,992.0 1692.6,992.0 1699.7,1006.0 1683.7,1006.0" fill="none" stroke="#00f" stroke-width="2.0" stroke-linejoin="miter"/>
<polygon points="1704.1,983.0 1705.9,983.0 1713.0,997.0 1697.0,997.0" fill="none" stroke="#00f" stroke-width="2.0" stroke-linejoin="miter"/>
<polygon points="1717.5,993.8 1719.3,993.8 1726.4,1007.8 1710.4,1007.8" fill="none" stroke="#00f" stroke-width="2.0" stroke-linejoin="miter"/>
<rect x="210.7" y="166.7" width="14.6" height="14.6" fill="#000"/>
<rect x="224.1" y="99.3" width="14.6" height="14.6" fill="#000"/>
<rect x="237.5" y="95.1" width="14.6" height="14.6" fill="#000"/>
<rect x="250.9" y="79.9" width="14.6" height="14.6" fill="#000"/>
<rect x="264.3" y="94.2" width="14.6" height="14.6" fill="#000"/>
<rect x="277.7" y="95.4" width="14.6" height="14.6" fill="#000"/>
<rect x="291.2" y="96.8" width="14.6" height="14.6" fill="#000"/>
<rect x="304.6" y="90.0" width="14.6" height="14.6" fill="#000"/>
<rect x="318.0" y="79.9" width="14.6" height="14.6" fill="#000"/>
<rect x="331.4" y="103.1" width="14.6" height="14.6" fill="#000"/>
<rect x="344.8" y="101.0" width="14.6" height="14.6" fill="#000"/>
<rect x="358.2" y="100.7" width="14.6" height="14.6" fill="#000"/>
<rect x="371.6" y="100.1" width="14.6" height="14.6" fill="#000"/>
<rect x="385.1" y="95.1" width="14.6" height="14.6" fill="#000"/>
<rect x="398.5" y="86.7" width="14.6" height="14.6" fill="#000"/>
<rect x="411.9" y="93.4" width="14.6" height="14.6" fill="#000"/>
<rect x="425.4" y="100.1" width="14.6" height="14.6" fill="#000"/>
<rect x="438.8" y="100.1" width="14.6" height="14.6" fill="#000"/>
<rect x="452.3" y="99.3" width="14.6" height="14.6" fill="#000"/>
<rect x="465.7" y="95.1" width="14.6" height="14.6" fill="#000"/>
<rect x="479.2" y="86.7" width="14.6" height="14.6" fill="#000"/>
<rect x="492.6" y="100.0" width="14.6" height="14.6" fill="#000"/>
<rect x="506.0" y="86.6" width="14.6" height="14.6" fill="#000"/>
<rect x="519.5" y="101.7" width="14.6" height="14.6" fill="#000"/>
<rect x="532.9" y="98.7" width="14.6" height="14.6" fill="#000"/>
<rect x="546.4" y="95.8" width="14.6" height="14.6" fill="#000"/>
<rect x="559.8" y="98.7" width="14.6" height="14.6" fill="#000"/>
<rect x="573.3" y="95.0" width="14.6" height="14.6" fill="#000"/>
<rect x="586.7" y="100.0" width="14.6" height="14.6" fill="#000"/>
<rect x="600.1" y="106.8" width="14.6" height="14.6" fill="#000"/>
<rect x="613.6" y="89.9" width="14.6" height="14.6" fill="#000"/>
<rect x="627.0" y="108.1" width="14.6" height="14.6" fill="#000"/>
<rect x="640.4" y="111.8" width="14.6" height="14.6" fill="#000"/>
<rect x="653.8" y="123.2" width="14.6" height="14.6" fill="#000"/>
<rect x="667.2" y="103.9" width="14.6" height="14.6" fill="#000"/>
<rect x="680.6" y="127.8" width="14.6" height="14.6" fill="#000"/>
<rect x="693.9" y="135.8" width="14.6" height="14.6" fill="#000"/>
<rect x="707.3" y="144.6" width="14.6" height="14.6" fill="#000"/>
<rect x="720.7" y="153.0" width="14.6" height="14.6" fill="#000"/>
<rect x="734.1" y="196.2" width="14.6" height="14.6" fill="#000"/>
<rect x="747.5" y="220.8" width="14.6" height="14.6" fill="#000"/>
<rect x="760.9" y="229.9" width="14.6" height="14.6" fill="#000"/>
<rect x="774.3" y="242.6" width="14.6" height="14.6" fill="#000"/>
<rect x="787.6" y="260.9" width="14.6" height="14.6" fill="#000"/>
<rect x="801.0" y="284.0" width="14.6" height="14.6" fill="#000"/>
<rect x="814.4" y="309.0" width="14.6" height="14.6" fill="#000"/>
<rect x="827.8" y="342.7" width="14.6" height="14.6" fill="#000"/>
<rect x="841.1" y="360.6" width="14.6" height="14.6" fill="#000"/>
<rect x="854.5" y="374.0" width="14.6" height="14.6" fill="#000"/>
<rect x="867.9" y="384.7" width="14.6" height="14.6" fill="#000"/>
<rect x="881.3" y="398.5" width="14.6" height="14.6" fill="#000"/>
<rect x="894.6" y="420.5" width="14.6" height="14.6" fill="#000"/>
<rect x="908.0" y="428.6" width="14.6" height="14.6" fill="#000"/>
<rect x="921.4" y="436.6" width="14.6" height="14.6" fill="#000"/>
<rect x="934.8" y="448.6" width="14.6" height="14.6" fill="#000"/>
<rect x="948.2" y="457.7" width="14.6" height="14.6" fill="#000"/>
<rect x="961.5" y="471.5" width="14.6" height="14.6" fill="#000"/>
<rect x="974.9" y="470.5" width="14.6" height="14.6" fill="#000"/>
<rect x="988.3" y="483.6" width="14.6" height="14.6" fill="#000"/>
<rect x="1001.7" y="482.0" width="14.6" height="14.6" fill="#000"/>
<rect x="1015.0" y="468.7" width="14.6" height="14.6" fill="#000"/>
<rect x="1028.4" y="476.8" width="14.6" height="14.6" fill="#000"/>
<rect x="1041.8" y="465.7" width="14.6" height="14.6" fill="#000"/>
<rect x="1055.2" y="470.1" width="14.6" height="14.6" fill="#000"/>
<rect x="1068.6" y="460.7" width="14.6" height="14.6" fill="#000"/>
<rect x="1082.0" y="452.8" width="14.6" height="14.6" fill="#000"/>
<rect x="1095.3" y="443.9" width="14.6" height="14.6" fill="#000"/>
<rect x="1108.7" y="436.0" width="14.6" height="14.6" fill="#000"/>
<rect x="1122.1" y="423.8" width="14.6" height="14.6" fill="#000"/>
<rect x="1135.5" y="404.9" width="14.6" height="14.6" fill="#000"/>
<rect x="1148.9" y="402.1" width="14.6" height="14.6" fill="#000"/>
<rect x="1162.2" y="393.5" width="14.6" height="14.6" fill="#000"/>
<rect x="1175.6" y="375.9" width="14.6" height="14.6" fill="#000"/>
<rect x="1189.0" y="366.0" width="14.6" height="14.6" fill="#000"/>
<rect x="1202.4" y="352.8" width="14.6" height="14.6" fill="#000"/>
<rect x="1215.8" y="362.4" width="14.6" height="14.6" fill="#000"/>
<rect x="1229.2" y="354.7" width="14.6" height="14.6" fill="#000"/>
<rect x="1242.6" y="324.1" width="14.6" height="14.6" fill="#000"/>
<rect x="1256.0" y="323.7" width="14.6" height="14.6" fill="#000"/>
<rect x="1269.3" y="297.6" width="14.6" height="14.6" fill="#000"/>
<rect x="1282.7" y="307.5" width="14.6" height="14.6" fill="#000"/>
<rect x="1296.1" y="302.1" width="14.6" height="14.6" fill="#000"/>
<rect x="1309.5" y="287.7" width="14.6" height="14.6" fill="#000"/>
<rect x="1322.9" y="271.9" width="14.6" height="14.6" fill="#000"/>
<rect x="1336.3" y="266.7" width="14.6" height="14.6" fill="#000"/>
<rect x="1349.7" y="253.7" width="14.6" height="14.6" fill="#000"/>
<rect x="1363.1" y="258.7" width="14.6" height="14.6" fill="#000"/>
<rect x="1376.5" y="227.0" width="14.6" height="14.6" fill="#000"/>
<rect x="1389.9" y="243.9" width="14.6" height="14.6" fill="#000"/>
<rect x="1403.3" y="235.3" width="14.6" height="14.6" fill="#000"/>
<rect x="1416.7" y="237.3" width="14.6" height="14.6" fill="#000"/>
<rect x="1430.1" y="231.1" width="14.6" height="14.6" fill="#000"/>
<rect x="1443.5" y="230.3" width="14.6" height="14.6" fill="#000"/>
<rect x="1456.8" y="221.2" width="14.6" height="14.6" fill="#000"/>
<rect x="1470.2" y="224.3" width="14.6" height="14.6" fill="#000"/>
<rect x="1483.6" y="213.7" width="14.6" height="14.6" fill="#000"/>
<rect x="1497.0" y="218.4" width="14.6" height="14.6" fill="#000"/>
<rect x="1510.4" y="205.7" width="14.6" height="14.6" fill="#000"/>
<rect x="1523.8" y="214.9" width="14.6" height="14.6" fill="#000"/>
<rect x="1537.2" y="173.7" width="14.6" height="14.6" fill="#000"/>
<rect x="1550.5" y="195.2" width="14.6" height="14.6" fill="#000"/>
<rect x="1563.9" y="178.1" width="14.6" height="14.6" fill="#000"/>
<rect x="1577.3" y="177.7" width="14.6" height="14.6" fill="#000"/>
<rect x="1590.7" y="175.8" width="14.6" height="14.6" fill="#000"/>
<rect x="1604.1" y="148.0" width="14.6" height="14.6" fill="#000"/>
<rect x="1617.4" y="163.5" width="14.6" height="14.6" fill="#000"/>
<rect x="1630.8" y="161.3" width="14.6" height="14.6" fill="#000"/>
<rect x="1644.2" y="151.9" width="14.6" height="14.6" fill="#000"/>
<rect x="1657.6" y="167.4" width="14.6" height="14.6" fill="#000"/>
<rect x="1671.0" y="138.8" width="14.6" height="14.6" fill="#000"/>
<rect x="1684.4" y="155.2" width="14.6" height="14.6" fill="#000"/>
<rect x="1697.7" y="161.0" width="14.6" height="14.6" fill="#000"/>
<rect x="1711.1" y="139.6" width="14.6" height="14.6" fill="#000"/>
<circle cx="218.0" cy="224.0" r="8.0" fill="#f00"/>
<circle cx="231.4" cy="138.2" r="8.0" fill="#f00"/>
<circle cx="244.8" cy="142.9" r="8.0" fill="#f00"/>
<circle cx="258.2" cy="131.0" r="8.0" fill="#f00"/>
<circle cx="271.6" cy="143.2" r="8.0" fill="#f00"/>
<circle cx="285.0" cy="149.1" r="8.0" fill="#f00"/>
<circle cx="298.5" cy="137.3" r="8.0" fill="#f00"/>
<circle cx="311.9" cy="142.9" r="8.0" fill="#f00"/>
<circle cx="325.3" cy="137.9" r="8.0" fill="#f00"/>
<circle cx="338.7" cy="137.9" r="8.0" fill="#f00"/>
<circle cx="352.1" cy="107.9" r="8.0" fill="#f00"/>
<circle cx="365.5" cy="139.0" r="8.0" fill="#f00"/>
<circle cx="378.9" cy="134.0" r="8.0" fill="#f00"/>
<circle cx="392.4" cy="146.3" r="8.0" fill="#f00"/>
<circle cx="405.8" cy="146.3" r="8.0" fill="#f00"/>
<circle cx="419.2" cy="132.3" r="8.0" fill="#f00"/>
<circle cx="432.7" cy="146.6" r="8.0" fill="#f00"/>
<circle cx="446.1" cy="127.3" r="8.0" fill="#f00"/>
<circle cx="459.6" cy="141.9" r="8.0" fill="#f00"/>
<circle cx="473.0" cy="122.2" r="8.0" fill="#f00"/>
<circle cx="486.5" cy="121.3" r="8.0" fill="#f00"/>
<circle cx="499.9" cy="130.5" r="8.0" fill="#f00"/>
<circle cx="513.3" cy="128.0" r="8.0" fill="#f00"/>
<circle cx="526.8" cy="119.6" r="8.0" fill="#f00"/>
<circle cx="540.2" cy="140.6" r="8.0" fill="#f00"/>
<circle cx="553.7" cy="133.9" r="8.0" fill="#f00"/>
<circle cx="567.1" cy="138.1" r="8.0" fill="#f00"/>
<circle cx="580.6" cy="144.8" r="8.0" fill="#f00"/>
<circle cx="594.0" cy="145.7" r="8.0" fill="#f00"/>
<circle cx="607.4" cy="139.3" r="8.0" fill="#f00"/>
<circle cx="620.9" cy="144.0" r="8.0" fill="#f00"/>
<circle cx="634.3" cy="134.7" r="8.0" fill="#f00"/>
<circle cx="647.7" cy="150.7" r="8.0" fill="#f00"/>
<circle cx="661.1" cy="136.8" r="8.0" fill="#f00"/>
<circle cx="674.5" cy="153.6" r="8.0" fill="#f00"/>
<circle cx="687.9" cy="143.1" r="8.0" fill="#f00"/>
<circle cx="701.2" cy="151.6" r="8.0" fill="#f00"/>
<circle cx="714.6" cy="184.1" r="8.0" fill="#f00"/>
<circle cx="728.0" cy="184.1" r="8.0" fill="#f00"/>
<circle cx="741.4" cy="221.2" r="8.0" fill="#f00"/>
<circle cx="754.8" cy="237.0" r="8.0" fill="#f00"/>
<circle cx="768.2" cy="281.6" r="8.0" fill="#f00"/>
<circle cx="781.6" cy="300.5" r="8.0" fill="#f00"/>
<circle cx="794.9" cy="332.8" r="8.0" fill="#f00"/>
<circle cx="808.3" cy="371.7" r="8.0" fill="#f00"/>
<circle cx="821.7" cy="394.8" r="8.0" fill="#f00"/>
<circle cx="835.1" cy="443.8" r="8.0" fill="#f00"/>
<circle cx="848.4" cy="455.5" r="8.0" fill="#f00"/>
<circle cx="861.8" cy="471.7" r="8.0" fill="#f00"/>
<circle cx="875.2" cy="495.0" r="8.0" fill="#f00"/>
<circle cx="888.6" cy="495.6" r="8.0" fill="#f00"/>
<circle cx="901.9" cy="523.8" r="8.0" fill="#f00"/>
<circle cx="915.3" cy="532.5" r="8.0" fill="#f00"/>
<circle cx="928.7" cy="542.7" r="8.0" fill="#f00"/>
<circle cx="942.1" cy="540.3" r="8.0" fill="#f00"/>
<circle cx="955.5" cy="551.3" r="8.0" fill="#f00"/>
<circle cx="968.8" cy="538.7" r="8.0" fill="#f00"/>
<circle cx="982.2" cy="536.4" r="8.0" fill="#f00"/>
<circle cx="995.6" cy="542.7" r="8.0" fill="#f00"/>
<circle cx="1009.0" cy="530.9" r="8.0" fill="#f00"/>
<circle cx="1022.3" cy="530.9" r="8.0" fill="#f00"/>
<circle cx="1035.7" cy="513.6" r="8.0" fill="#f00"/>
<circle cx="1049.1" cy="508.9" r="8.0" fill="#f00"/>
<circle cx="1062.5" cy="501.8" r="8.0" fill="#f00"/>
<circle cx="1075.9" cy="487.7" r="8.0" fill="#f00"/>
<circle cx="1089.3" cy="471.1" r="8.0" fill="#f00"/>
<circle cx="1102.6" cy="468.0" r="8.0" fill="#f00"/>
<circle cx="1116.0" cy="454.6" r="8.0" fill="#f00"/>
<circle cx="1129.4" cy="435.8" r="8.0" fill="#f00"/>
<circle cx="1142.8" cy="421.6" r="8.0" fill="#f00"/>
<circle cx="1156.2" cy="426.4" r="8.0" fill="#f00"/>
<circle cx="1169.5" cy="417.7" r="8.0" fill="#f00"/>
<circle cx="1182.9" cy="401.2" r="8.0" fill="#f00"/>
<circle cx="1196.3" cy="386.8" r="8.0" fill="#f00"/>
<circle cx="1209.7" cy="365.9" r="8.0" fill="#f00"/>
<circle cx="1223.1" cy="357.9" r="8.0" fill="#f00"/>
<circle cx="1236.5" cy="372.5" r="8.0" fill="#f00"/>
<circle cx="1249.9" cy="355.7" r="8.0" fill="#f00"/>
<circle cx="1263.3" cy="337.7" r="8.0" fill="#f00"/>
<circle cx="1276.6" cy="317.2" r="8.0" fill="#f00"/>
<circle cx="1290.0" cy="316.4" r="8.0" fill="#f00"/>
<circle cx="1303.4" cy="312.5" r="8.0" fill="#f00"/>
<circle cx="1316.8" cy="299.9" r="8.0" fill="#f00"/>
<circle cx="1330.2" cy="288.9" r="8.0" fill="#f00"/>
<circle cx="1343.6" cy="286.6" r="8.0" fill="#f00"/>
<circle cx="1357.0" cy="264.6" r="8.0" fill="#f00"/>
<circle cx="1370.4" cy="270.1" r="8.0" fill="#f00"/>
<circle cx="1383.8" cy="251.2" r="8.0" fill="#f00"/>
<circle cx="1397.2" cy="252.8" r="8.0" fill="#f00"/>
<circle cx="1410.6" cy="243.4" r="8.0" fill="#f00"/>
<circle cx="1424.0" cy="242.6" r="8.0" fill="#f00"/>
<circle cx="1437.4" cy="231.6" r="8.0" fill="#f00"/>
<circle cx="1450.8" cy="223.8" r="8.0" fill="#f00"/>
<circle cx="1464.1" cy="206.5" r="8.0" fill="#f00"/>
<circle cx="1477.5" cy="212.5" r="8.0" fill="#f00"/>
<circle cx="1490.9" cy="193.2" r="8.0" fill="#f00"/>
<circle cx="1504.3" cy="190.0" r="8.0" fill="#f00"/>
<circle cx="1517.7" cy="203.0" r="8.0" fill="#f00"/>
<circle cx="1531.1" cy="191.0" r="8.0" fill="#f00"/>
<circle cx="1544.5" cy="201.3" r="8.0" fill="#f00"/>
<circle cx="1557.8" cy="181.7" r="8.0" fill="#f00"/>
<circle cx="1571.2" cy="192.9" r="8.0" fill="#f00"/>
<circle cx="1584.6" cy="177.2" r="8.0" fill="#f00"/>
<circle cx="1598.0" cy="169.0" r="8.0" fill="#f00"/>
<circle cx="1611.4" cy="169.7" r="8.0" fill="#f00"/>
<circle cx="1624.7" cy="170.4" r="8.0" fill="#f00"/>
<circle cx="1638.1" cy="161.8" r="8.0" fill="#f00"/>
<circle cx="1651.5" cy="180.3" r="8.0" fill="#f00"/>
<circle cx="1664.9" cy="166.2" r="8.0" fill="#f00"/>
<circle cx="1678.3" cy="170.4" r="8.0" fill="#f00"/>
<circle cx="1691.7" cy="150.8" r="8.0" fill="#f00"/>
<circle cx="1705.0" cy="158.1" r="8.0" fill="#f00"/>
<circle cx="1718.4" cy="155.0" r="8.0" fill="#f00"/>
<polygon points="216.9,124.3 219.1,124.3 227.5,140.3 208.5,140.3" fill="#00f"/>
<polygon points="230.3,99.4 232.5,99.4 240.9,115.4 221.9,115.4" fill="#00f"/>
<polygon points="243.7,95.7 245.9,95.7 254.3,111.7 235.3,111.7" fill="#00f"/>
<polygon points="257.1,106.6 259.3,106.6 267.7,122.6 248.7,122.6" fill="#00f"/>
<polygon points="270.5,105.5 272.7,105.5 281.1,121.5 262.1,121.5" fill="#00f"/>
<polygon points="283.9,100.4 286.1,100.4 294.5,116.4 275.5,116.4" fill="#00f"/>
<polygon points="297.4,111.2 299.6,111.2 308.0,127.2 289.0,127.2" fill="#00f"/>
<polygon points="310.8,111.7 313.0,111.7 321.4,127.7 302.4,127.7" fill="#00f"/>
<polygon points="324.2,106.1 326.4,106.1 334.8,122.1 315.8,122.1" fill="#00f"/>
<polygon points="337.6,108.7 339.8,108.7 348.2,124.7 329.2,124.7" fill="#00f"/>
<polygon points="351.0,101.1 353.2,101.1 361.6,117.1 342.6,117.1" fill="#00f"/>
<polygon points="364.4,99.1 366.6,99.1 375.0,115.1 356.0,115.1" fill="#00f"/>
<polygon points="377.8,124.1 380.0,124.1 388.4,140.1 369.4,140.1" fill="#00f"/>
<polygon points="391.3,105.1 393.5,105.1 401.9,121.1 382.9,121.1" fill="#00f"/>
<polygon points="404.7,97.1 406.9,97.1 415.3,113.1 396.3,113.1" fill="#00f"/>
<polygon points="418.1,98.4 420.3,98.4 428.7,114.4 409.7,114.4" fill="#00f"/>
<polygon points="431.6,111.7 433.8,111.7 442.2,127.7 423.2,127.7" fill="#00f"/>
<polygon points="445.0,107.8 447.2,107.8 455.6,123.8 436.6,123.8" fill="#00f"/>
<polygon points="458.5,115.2 460.7,115.2 469.1,131.2 450.1,131.2" fill="#00f"/>
<polygon points="471.9,110.0 474.1,110.0 482.5,126.0 463.5,126.0" fill="#00f"/>
<polygon points="485.4,125.6 487.6,125.6 496.0,141.6 477.0,141.6" fill="#00f"/>
<polygon points="498.8,102.7 501.0,102.7 509.4,118.7 490.4,118.7" fill="#00f"/>
<polygon points="512.2,118.8 514.4,118.8 522.8,134.8 503.8,134.8" fill="#00f"/>
<polygon points="525.7,105.4 527.9,105.4 536.3,121.4 517.3,121.4" fill="#00f"/>
<polygon points="539.1,124.0 541.3,124.0 549.7,140.0 530.7,140.0" fill="#00f"/>
<polygon points="552.6,108.0 554.8,108.0 563.2,124.0 544.2,124.0" fill="#00f"/>
<polygon points="566.0,108.8 568.2,108.8 576.6,124.8 557.6,124.8" fill="#00f"/>
<polygon points="579.5,121.2 581.7,121.2 590.1,137.2 571.1,137.2" fill="#00f"/>
<polygon points="592.9,129.6 595.1,129.6 603.5,145.6 584.5,145.6" fill="#00f"/>
<polygon points="606.3,132.3 608.5,132.3 616.9,148.3 597.9,148.3" fill="#00f"/>
<polygon points="619.8,167.4 622.0,167.4 630.4,183.4 611.4,183.4" fill="#00f"/>
<polygon points="633.2,163.2 635.4,163.2 643.8,179.2 624.8,179.2" fill="#00f"/>
<polygon points="646.6,165.9 648.8,165.9 657.2,181.9 638.2,181.9" fill="#00f"/>
<polygon points="660.0,186.3 662.2,186.3 670.6,202.3 651.6,202.3" fill="#00f"/>
<polygon points="673.4,203.2 675.6,203.2 684.0,219.2 665.0,219.2" fill="#00f"/>
<polygon points="686.8,216.9 689.0,216.9 697.4,232.9 678.4,232.9" fill="#00f"/>
<polygon points="700.1,238.0 702.3,238.0 710.7,254.0 691.7,254.0" fill="#00f"/>
<polygon points="713.5,270.0 715.7,270.0 724.1,286.0 705.1,286.0" fill="#00f"/>
<polygon points="726.9,288.8 729.1,288.8 737.5,304.8 718.5,304.8" fill="#00f"/>
<polygon points="740.3,311.0 742.5,311.0 750.9,327.0 731.9,327.0" fill="#00f"/>
<polygon points="753.7,348.9 755.9,348.9 764.3,364.9 745.3,364.9" fill="#00f"/>
<polygon points="767.1,363.1 769.3,363.1 777.7,379.1 758.7,379.1" fill="#00f"/>
<polygon points="780.5,388.9 782.7,388.9 791.1,404.9 772.1,404.9" fill="#00f"/>
<polygon points="793.8,393.9 796.0,393.9 804.4,409.9 785.4,409.9" fill="#00f"/>
<polygon points="807.2,426.5 809.4,426.5 817.8,442.5 798.8,442.5" fill="#00f"/>
<polygon points="820.6,437.7 822.8,437.7 831.2,453.7 812.2,453.7" fill="#00f"/>
<polygon points="834.0,458.7 836.2,458.7 844.6,474.7 825.6,474.7" fill="#00f"/>
<polygon points="847.3,479.7 849.5,479.7 857.9,495.7 838.9,495.7" fill="#00f"/>
<polygon points="860.7,486.8 862.9,486.8 871.3,502.8 852.3,502.8" fill="#00f"/>
<polygon points="874.1,488.7 876.3,488.7 884.7,504.7 865.7,504.7" fill="#00f"/>
<polygon points="887.5,511.6 889.7,511.6 898.1,527.6 879.1,527.6" fill="#00f"/>
<polygon points="900.8,510.5 903.0,510.5 911.4,526.5 892.4,526.5" fill="#00f"/>
<polygon points="914.2,526.7 916.4,526.7 924.8,542.7 905.8,542.7" fill="#00f"/>
<polygon points="927.6,524.6 929.8,524.6 938.2,540.6 919.2,540.6" fill="#00f"/>
<polygon points="941.0,530.7 943.2,530.7 951.6,546.7 932.6,546.7" fill="#00f"/>
<polygon points="954.4,520.7 956.6,520.7 965.0,536.7 946.0,536.7" fill="#00f"/>
<polygon points="967.7,526.7 969.9,526.7 978.3,542.7 959.3,542.7" fill="#00f"/>
<polygon points="981.1,520.7 983.3,520.7 991.7,536.7 972.7,536.7" fill="#00f"/>
<polygon points="994.5,508.8 996.7,508.8 1005.1,524.8 986.1,524.8" fill="#00f"/>
<polygon points="1007.9,513.9 1010.1,513.9 1018.5,529.9 999.5,529.9" fill="#00f"/>
<polygon points="1021.2,494.6 1023.4,494.6 1031.8,510.6 1012.8,510.6" fill="#00f"/>
<polygon points="1034.6,498.9 1036.8,498.9 1045.2,514.9 1026.2,514.9" fill="#00f"/>
<polygon points="1048.0,493.1 1050.2,493.1 1058.6,509.1 1039.6,509.1" fill="#00f"/>
<polygon points="1061.4,481.6 1063.6,481.6 1072.0,497.6 1053.0,497.6" fill="#00f"/>
<polygon points="1074.8,467.6 1077.0,467.6 1085.4,483.6 1066.4,483.6" fill="#00f"/>
<polygon points="1088.2,451.8 1090.4,451.8 1098.8,467.8 1079.8,467.8" fill="#00f"/>
<polygon points="1101.5,444.7 1103.7,444.7 1112.1,460.7 1093.1,460.7" fill="#00f"/>
<polygon points="1114.9,439.5 1117.1,439.5 1125.5,455.5 1106.5,455.5" fill="#00f"/>
<polygon points="1128.3,420.5 1130.5,420.5 1138.9,436.5 1119.9,436.5" fill="#00f"/>
<polygon points="1141.7,419.0 1143.9,419.0 1152.3,435.0 1133.3,435.0" fill="#00f"/>
<polygon points="1155.1,404.7 1157.3,404.7 1165.7,420.7 1146.7,420.7" fill="#00f"/>
<polygon points="1168.4,383.8 1170.6,383.8 1179.0,399.8 1160.0,399.8" fill="#00f"/>
<polygon points="1181.8,382.9 1184.0,382.9 1192.4,398.9 1173.4,398.9" fill="#00f"/>
<polygon points="1195.2,372.8 1197.4,372.8 1205.8,388.8 1186.8,388.8" fill="#00f"/>
<polygon points="1208.6,369.7 1210.8,369.7 1219.2,385.7 1200.2,385.7" fill="#00f"/>
<polygon points="1222.0,351.6 1224.2,351.6 1232.6,367.6 1213.6,367.6" fill="#00f"/>
<polygon points="1235.4,337.7 1237.6,337.7 1246.0,353.7 1227.0,353.7" fill="#00f"/>
<polygon points="1248.8,326.5 1251.0,326.5 1259.4,342.5 1240.4,342.5" fill="#00f"/>
<polygon points="1262.2,322.6 1264.4,322.6 1272.8,338.6 1253.8,338.6" fill="#00f"/>
<polygon points="1275.5,310.7 1277.7,310.7 1286.1,326.7 1267.1,326.7" fill="#00f"/>
<polygon points="1288.9,306.8 1291.1,306.8 1299.5,322.8 1280.5,322.8" fill="#00f"/>
<polygon points="1302.3,294.7 1304.5,294.7 1312.9,310.7 1293.9,310.7" fill="#00f"/>
<polygon points="1315.7,278.6 1317.9,278.6 1326.3,294.6 1307.3,294.6" fill="#00f"/>
<polygon points="1329.1,276.8 1331.3,276.8 1339.7,292.8 1320.7,292.8" fill="#00f"/>
<polygon points="1342.5,264.1 1344.7,264.1 1353.1,280.1 1334.1,280.1" fill="#00f"/>
<polygon points="1355.9,250.6 1358.1,250.6 1366.5,266.6 1347.5,266.6" fill="#00f"/>
<polygon points="1369.3,247.5 1371.5,247.5 1379.9,263.5 1360.9,263.5" fill="#00f"/>
<polygon points="1382.7,229.6 1384.9,229.6 1393.3,245.6 1374.3,245.6" fill="#00f"/>
<polygon points="1396.1,238.5 1398.3,238.5 1406.7,254.5 1387.7,254.5" fill="#00f"/>
<polygon points="1409.5,231.5 1411.7,231.5 1420.1,247.5 1401.1,247.5" fill="#00f"/>
<polygon points="1422.9,221.3 1425.1,221.3 1433.5,237.3 1414.5,237.3" fill="#00f"/>
<polygon points="1436.3,216.6 1438.5,216.6 1446.9,232.6 1427.9,232.6" fill="#00f"/>
<polygon points="1449.7,223.5 1451.9,223.5 1460.3,239.5 1441.3,239.5" fill="#00f"/>
<polygon points="1463.0,208.7 1465.2,208.7 1473.6,224.7 1454.6,224.7" fill="#00f"/>
<polygon points="1476.4,219.7 1478.6,219.7 1487.0,235.7 1468.0,235.7" fill="#00f"/>
<polygon points="1489.8,190.6 1492.0,190.6 1500.4,206.6 1481.4,206.6" fill="#00f"/>
<polygon points="1503.2,200.9 1505.4,200.9 1513.8,216.9 1494.8,216.9" fill="#00f"/>
<polygon points="1516.6,181.8 1518.8,181.8 1527.2,197.8 1508.2,197.8" fill="#00f"/>
<polygon points="1530.0,185.2 1532.2,185.2 1540.6,201.2 1521.6,201.2" fill="#00f"/>
<polygon points="1543.4,183.2 1545.6,183.2 1554.0,199.2 1535.0,199.2" fill="#00f"/>
<polygon points="1556.7,192.9 1558.9,192.9 1567.3,208.9 1548.3,208.9" fill="#00f"/>
<polygon points="1570.1,185.6 1572.3,185.6 1580.7,201.6 1561.7,201.6" fill="#00f"/>
<polygon points="1583.5,180.7 1585.7,180.7 1594.1,196.7 1575.1,196.7" fill="#00f"/>
<polygon points="1596.9,172.0 1599.1,172.0 1607.5,188.0 1588.5,188.0" fill="#00f"/>
<polygon points="1610.3,167.1 1612.5,167.1 1620.9,183.1 1601.9,183.1" fill="#00f"/>
<polygon points="1623.6,156.8 1625.8,156.8 1634.2,172.8 1615.2,172.8" fill="#00f"/>
<polygon points="1637.0,175.2 1639.2,175.2 1647.6,191.2 1628.6,191.2" fill="#00f"/>
<polygon points="1650.4,156.6 1652.6,156.6 1661.0,172.6 1642.0,172.6" fill="#00f"/>
<polygon points="1663.8,153.8 1666.0,153.8 1674.4,169.8 1655.4,169.8" fill="#00f"/>
<polygon points="1677.2,152.9 1679.4,152.9 1687.8,168.9 1668.8,168.9" fill="#00f"/>
<polygon points="1690.6,167.8 1692.8,167.8 1701.2,183.8 1682.2,183.8" fill="#00f"/>
<polygon points="1703.9,148.3 1706.1,148.3 1714.5,164.3 1695.5,164.3" fill="#00f"/>
<polygon points="1717.3,144.0 1719.5,144.0 1727.9,160.0 1708.9,160.0" fill="#00f"/>
</g>
<g stroke="#000" stroke-linecap="butt" fill="none">
<line x1="217.9" y1="24" x2="217.9" y2="1144" stroke-width="6.1"/>
<line x1="215" y1="1141.4" x2="1725" y2="1141.4" stroke-width="5.3"/>
<line x1="205" y1="1141.2" x2="216" y2="1141.2" stroke-width="4.95"/>
<line x1="194" y1="1071.5" x2="216" y2="1071.5" stroke-width="4.95"/>
<line x1="205" y1="1001.8" x2="216" y2="1001.8" stroke-width="4.95"/>
<line x1="194" y1="932.1" x2="216" y2="932.1" stroke-width="4.95"/>
<line x1="205" y1="862.3" x2="216" y2="862.3" stroke-width="4.95"/>
<line x1="194" y1="792.6" x2="216" y2="792.6" stroke-width="4.95"/>
<line x1="205" y1="722.9" x2="216" y2="722.9" stroke-width="4.95"/>
<line x1="194" y1="653.2" x2="216" y2="653.2" stroke-width="4.95"/>
<line x1="205" y1="583.5" x2="216" y2="583.5" stroke-width="4.95"/>
<line x1="194" y1="513.8" x2="216" y2="513.8" stroke-width="4.95"/>
<line x1="205" y1="444.1" x2="216" y2="444.1" stroke-width="4.95"/>
<line x1="194" y1="374.3" x2="216" y2="374.3" stroke-width="4.95"/>
<line x1="205" y1="304.6" x2="216" y2="304.6" stroke-width="4.95"/>
<line x1="194" y1="234.9" x2="216" y2="234.9" stroke-width="4.95"/>
<line x1="205" y1="165.2" x2="216" y2="165.2" stroke-width="4.95"/>
<line x1="194" y1="95.5" x2="216" y2="95.5" stroke-width="4.95"/>
<line x1="205" y1="26.6" x2="216" y2="26.6" stroke-width="4.95"/>
<line x1="218.1" y1="1142" x2="218.1" y2="1154.7" stroke-width="5.1"/>
<line x1="318.4" y1="1142" x2="318.4" y2="1164.9" stroke-width="5.1"/>
<line x1="418.7" y1="1142" x2="418.7" y2="1154.7" stroke-width="5.1"/>
<line x1="519.0" y1="1142" x2="519.0" y2="1164.9" stroke-width="5.1"/>
<line x1="619.3" y1="1142" x2="619.3" y2="1154.7" stroke-width="5.1"/>
<line x1="719.6" y1="1142" x2="719.6" y2="1164.9" stroke-width="5.1"/>
<line x1="819.9" y1="1142" x2="819.9" y2="1154.7" stroke-width="5.1"/>
<line x1="920.2" y1="1142" x2="920.2" y2="1164.9" stroke-width="5.1"/>
<line x1="1020.5" y1="1142" x2="1020.5" y2="1154.7" stroke-width="5.1"/>
<line x1="1120.8" y1="1142" x2="1120.8" y2="1164.9" stroke-width="5.1"/>
<line x1="1221.0" y1="1142" x2="1221.0" y2="1154.7" stroke-width="5.1"/>
<line x1="1321.3" y1="1142" x2="1321.3" y2="1164.9" stroke-width="5.1"/>
<line x1="1421.6" y1="1142" x2="1421.6" y2="1154.7" stroke-width="5.1"/>
<line x1="1521.9" y1="1142" x2="1521.9" y2="1164.9" stroke-width="5.1"/>
<line x1="1622.2" y1="1142" x2="1622.2" y2="1154.7" stroke-width="5.1"/>
<line x1="1722.5" y1="1142" x2="1722.5" y2="1164.9" stroke-width="5.1"/>
</g>
<g font-family="Liberation Sans, sans-serif" font-size="55" fill="#000">
<text x="180" y="1088.0" text-anchor="end">0.2</text>
<text x="180" y="948.6" text-anchor="end">0.3</text>
<text x="180" y="809.1" text-anchor="end">0.4</text>
<text x="180" y="669.7" text-anchor="end">0.5</text>
<text x="180" y="530.3" text-anchor="end">0.6</text>
<text x="180" y="390.8" text-anchor="end">0.7</text>
<text x="180" y="251.4" text-anchor="end">0.8</text>
<text x="180" y="112.0" text-anchor="end">0.9</text>
<text x="318.4" y="1221.5" text-anchor="middle">100</text>
<text x="519.0" y="1221.5" text-anchor="middle">200</text>
<text x="719.6" y="1221.5" text-anchor="middle">300</text>
<text x="920.2" y="1221.5" text-anchor="middle">400</text>
<text x="1120.8" y="1221.5" text-anchor="middle">500</text>
<text x="1321.3" y="1221.5" text-anchor="middle">600</text>
<text x="1521.9" y="1221.5" text-anchor="middle">700</text>
<text x="1722.5" y="1221.5" text-anchor="middle">800</text>
</g>
<text x="75.1" y="582" transform="rotate(-90 75.1 582)" text-anchor="middle" font-family="Liberation Sans, sans-serif" font-size="68.5">Mole fractions</text>
<text transform="translate(972 1326.7) scale(1 1.035)" x="-0.5" y="0" text-anchor="middle" font-family="Liberation Sans, sans-serif" font-size="68"><tspan font-style="italic">T</tspan> (°C)</text>
<text transform="translate(330 283) scale(1.16 1)" x="-2.7" y="-0.8" font-family="DejaVu Serif, Liberation Serif, serif" font-style="italic" font-size="73.8">α</text>
<g fill="#000"><rect x="276.1" y="296" width="272.80" height="2.00"/><rect x="276.1" y="343.8" width="272.80" height="2.10"/><rect x="276.1" y="296" width="2.90" height="49.90"/><rect x="546.1" y="296" width="2.80" height="49.90"/></g>
<rect x="329.7" y="313.7" width="14.6" height="14.6" fill="#000"/>
<circle cx="413.0" cy="321.0" r="8.0" fill="#f00"/>
<polygon points="488.4,311.0 490.6,311.0 499.0,327.0 480.0,327.0" fill="#00f"/>
<text transform="translate(318.8 923) scale(1.12 1)" x="0" y="0" font-family="Liberation Sans, sans-serif" font-style="italic" font-size="81">f</text>
<text x="344.5" y="951" font-family="Liberation Sans, sans-serif" font-size="47.8">16–18</text>
<g fill="#000"><rect x="261" y="955.1" width="271.90" height="2.90"/><rect x="261" y="1002.8" width="271.90" height="2.00"/><rect x="261" y="955.1" width="2.20" height="49.70"/><rect x="531" y="955.1" width="1.90" height="49.70"/></g>
<rect x="314.9" y="973.6" width="12.8" height="12.8" fill="none" stroke="#000" stroke-width="1.8"/>
<circle cx="397.7" cy="980.5" r="7.05" fill="none" stroke="#f00" stroke-width="1.9"/>
<polygon points="472.6,971.0 474.4,971.0 481.5,985.0 465.5,985.0" fill="none" stroke="#00f" stroke-width="2.0" stroke-linejoin="miter"/>
<g fill="#000"><rect x="789.9" y="879" width="536.10" height="2.00"/><rect x="789.9" y="1114" width="536.10" height="2.00"/><rect x="789.9" y="879" width="2.10" height="237.00"/><rect x="1323" y="879" width="3.00" height="237.00"/></g>
<rect x="883.4" y="919.5" width="14.6" height="14.6" fill="#000"/>
<rect x="1029.1" y="920.4" width="12.8" height="12.8" fill="none" stroke="#000" stroke-width="1.8"/>
<text x="1100.1" y="946.8" font-family="Liberation Sans, sans-serif" font-size="58" fill="#000">NWO</text>
<circle cx="890.7" cy="997.0" r="8.0" fill="#f00"/>
<circle cx="1035.5" cy="997.0" r="7.05" fill="none" stroke="#f00" stroke-width="1.9"/>
<text x="1100.1" y="1017.0" font-family="Liberation Sans, sans-serif" font-size="58" fill="#f00">NLWO</text>
<polygon points="889.6,1058.5 891.8,1058.5 900.2,1074.5 881.2,1074.5" fill="#00f"/>
<polygon points="1034.6,1059.5 1036.4,1059.5 1043.5,1073.5 1027.5,1073.5" fill="none" stroke="#00f" stroke-width="2.0" stroke-linejoin="miter"/>
<text x="1100.1" y="1086.5" font-family="Liberation Sans, sans-serif" font-size="58" fill="#00f">NWMO</text>
</svg>
</body></html>
